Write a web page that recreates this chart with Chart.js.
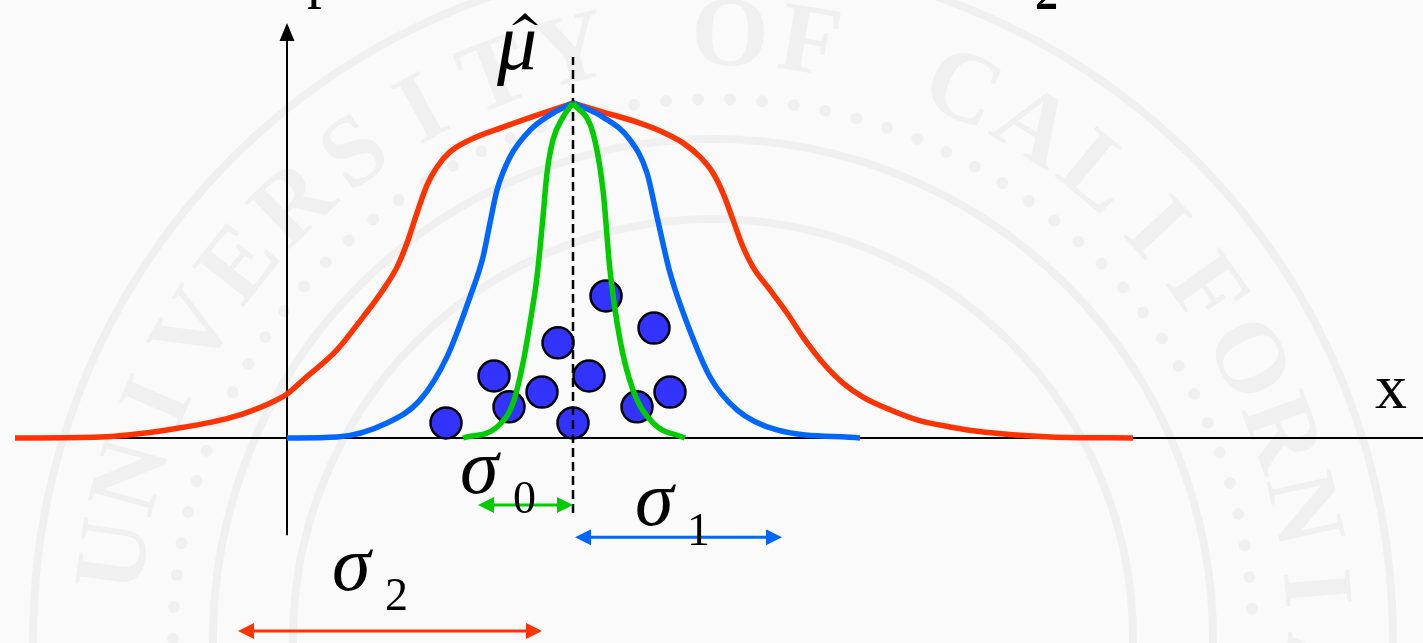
<!DOCTYPE html>
<html>
<head>
<meta charset="utf-8">
<title>Gaussian fits of different width</title>
<script src="https://cdn.jsdelivr.net/npm/chart.js@4.4.1/dist/chart.umd.min.js"></script>
<style>
  html, body { margin: 0; padding: 0; background: #fbfbfb; }
  #wrap { width: 1423px; height: 643px; position: relative; }
</style>
</head>
<body>
<div id="wrap"><canvas id="chart"></canvas></div>
<script>
// x: distance from the estimated mean, y: density scaled so each peak is 1
const redCurve = [
  [-5.58, 0], [-4.73, 0.003], [-4.06, 0.024], [-3.40, 0.063], [-3.03, 0.104],
  [-2.86, 0.131], [-2.70, 0.173], [-2.36, 0.263], [-2.10, 0.361], [-1.90, 0.442],
  [-1.76, 0.510], [-1.66, 0.582], [-1.56, 0.672], [-1.46, 0.755], [-1.36, 0.809],
  [-1.23, 0.854], [-1.03, 0.890], [-0.70, 0.928], [-0.36, 0.964], [0, 1],
  [0.30, 0.973], [0.64, 0.943], [0.90, 0.913], [1.10, 0.881], [1.27, 0.839],
  [1.40, 0.791], [1.50, 0.731], [1.60, 0.651], [1.70, 0.570], [1.80, 0.510],
  [1.97, 0.442], [2.14, 0.373], [2.30, 0.301], [2.50, 0.224], [2.70, 0.164],
  [2.90, 0.122], [3.10, 0.093], [3.44, 0.054], [3.77, 0.033], [4.10, 0.018],
  [4.77, 0.003], [5.60, 0]
]
const blueCurve = [
  [-2.86, 0], [-2.36, 0.003], [-1.86, 0.045], [-1.53, 0.113], [-1.26, 0.242],
  [-1.03, 0.421], [-0.90, 0.540], [-0.83, 0.642], [-0.76, 0.740], [-0.63, 0.839],
  [-0.43, 0.919], [-0.20, 0.970], [0, 1],
  [0.30, 0.958], [0.57, 0.890], [0.74, 0.791], [0.84, 0.660], [0.97, 0.493],
  [1.14, 0.343], [1.37, 0.182], [1.64, 0.084], [2.04, 0.024], [2.87, 0]
]
const greenCurve = [
  [-1.10, 0], [-0.76, 0.033], [-0.60, 0.104], [-0.50, 0.224], [-0.43, 0.343],
  [-0.36, 0.481], [-0.30, 0.660], [-0.26, 0.791], [-0.20, 0.890], [-0.10, 0.958], [0, 1],
  [0.20, 0.910], [0.30, 0.740], [0.37, 0.501], [0.47, 0.293], [0.60, 0.143],
  [0.80, 0.045], [1.12, 0]
]
const samples = [
  [0.33, 0.424], [0.81, 0.328], [-0.15, 0.284], [-0.79, 0.185], [0.16, 0.185], [-0.31, 0.137],
  [0.97, 0.137], [-0.64, 0.093], [0.64, 0.093], [-1.27, 0.045], [0, 0.045]
]

// widths shown under the axis: sigma_0, sigma_1, sigma_2
const sigmaSpans = [[-0.95, 0], [0.02, 2.09], [-3.35, -0.31]]
const sigmaLevels = [-0.200, -0.296, -0.576]
const sigmaColors = ['#00cc00', '#0066ff', '#ff3300']

const xAxisSpan = [-4.78, 8.5]
const yAxisX = -2.86
const yAxisSpan = [-0.29, 1.239]
const meanLineSpan = [-0.224, 1.137]

const toXY = pts => pts.map(([x, y]) => ({ x, y }))

// split at the peak so the top stays pointed
function halves(pts) {
  let top = 0
  pts.forEach((p, i) => { if (p[1] > pts[top][1]) top = i })
  return [toXY(pts.slice(0, top + 1)), toXY(pts.slice(top))]
}

function curveSets(pts, color, order) {
  return halves(pts).map(data => ({
    data, showLine: true, pointRadius: 0, borderColor: color, borderWidth: 5.5,
    cubicInterpolationMode: 'monotone', order
  }))
}

const serif = '"Liberation Serif", "Times New Roman", serif'

const labels = [
  { text: 'μ', x: -0.76, y: 1.101, font: 'italic 80px ' + serif },
  { text: 'σ', x: -1.13, y: -0.164, font: 'italic 78px ' + serif },
  { text: '0', x: -0.60, y: -0.224, font: '46px ' + serif },
  { text: 'σ', x: 0.62, y: -0.260, font: 'italic 78px ' + serif },
  { text: '1', x: 1.14, y: -0.319, font: '46px ' + serif },
  { text: 'σ', x: -2.41, y: -0.454, font: 'italic 78px ' + serif },
  { text: '2', x: -1.88, y: -0.513, font: '46px ' + serif },
  { text: 'x', x: 8.02, y: 0.090, font: '64px ' + serif },
  { text: 'p', x: -2.66, y: 1.319, font: '60px ' + serif },
  { text: '2', x: 4.62, y: 1.281, font: 'bold 46px ' + serif }
]
// the hat over mu: left, top, right
const hat = { x: [-0.61, -0.48, -0.35], y: [1.233, 1.269] }

const seal = {
  id: 'seal',
  beforeDraw(chart) {
    const { ctx, scales: { x, y } } = chart
    const cx = x.getPixelForValue(1.40), cy = y.getPixelForValue(-0.60)
    ctx.save()
    ctx.fillStyle = '#fafafa'
    ctx.fillRect(0, 0, chart.width, chart.height)
    ctx.strokeStyle = 'rgba(0,0,0,0.04)'
    ctx.fillStyle = 'rgba(0,0,0,0.04)'
    ctx.lineWidth = 8
    for (const r of [680, 500, 420]) {
      ctx.beginPath(); ctx.arc(cx, cy, r, 0, Math.PI * 2); ctx.stroke()
    }
    for (let a = 180; a <= 360; a += 3.4) {
      const t = a * Math.PI / 180
      ctx.beginPath(); ctx.arc(cx + 540 * Math.cos(t), cy + 540 * Math.sin(t), 6, 0, Math.PI * 2); ctx.fill()
    }
    const ring = 'UNIVERSITY OF CALIFORNIA'
    ctx.font = 'bold 100px ' + serif
    ctx.textAlign = 'center'
    ctx.textBaseline = 'middle'
    const start = 188, step = 7.6
    ;[...ring].forEach((ch, i) => {
      const t = (start + i * step) * Math.PI / 180
      ctx.save()
      ctx.translate(cx + 600 * Math.cos(t), cy + 600 * Math.sin(t))
      ctx.rotate(t + Math.PI / 2)
      ctx.fillText(ch, 0, 0)
      ctx.restore()
    })
    ctx.restore()
  }
}

function arrowHead(ctx, tipX, tipY, dir, len, half) {
  // dir: angle the arrow points to
  ctx.beginPath()
  ctx.moveTo(tipX, tipY)
  ctx.lineTo(tipX - len * Math.cos(dir) + half * Math.sin(dir), tipY - len * Math.sin(dir) - half * Math.cos(dir))
  ctx.lineTo(tipX - len * Math.cos(dir) - half * Math.sin(dir), tipY - len * Math.sin(dir) + half * Math.cos(dir))
  ctx.closePath()
  ctx.fill()
}

const marks = {
  id: 'marks',
  afterDatasetsDraw(chart) {
    const { ctx, scales: { x, y } } = chart
    ctx.save()
    // y axis arrow
    ctx.fillStyle = '#000'
    arrowHead(ctx, x.getPixelForValue(yAxisX), y.getPixelForValue(yAxisSpan[1]), -Math.PI / 2, 18, 7.5)
    // sigma width arrows
    sigmaSpans.forEach(([a, b], i) => {
      const py = y.getPixelForValue(sigmaLevels[i])
      const x0 = x.getPixelForValue(a), x1 = x.getPixelForValue(b)
      ctx.strokeStyle = ctx.fillStyle = sigmaColors[i]
      ctx.lineWidth = 3
      ctx.beginPath(); ctx.moveTo(x0 + 8, py); ctx.lineTo(x1 - 8, py); ctx.stroke()
      arrowHead(ctx, x0, py, Math.PI, 16, 8)
      arrowHead(ctx, x1, py, 0, 16, 8)
    })
    ctx.fillStyle = '#000'
    ctx.textAlign = 'left'
    ctx.textBaseline = 'alphabetic'
    labels.forEach(l => {
      ctx.font = l.font
      ctx.fillText(l.text, x.getPixelForValue(l.x), y.getPixelForValue(l.y))
    })
    // circumflex over mu
    const hx = hat.x.map(v => x.getPixelForValue(v))
    const [hb, ht] = hat.y.map(v => y.getPixelForValue(v))
    ctx.beginPath()
    ctx.moveTo(hx[0], hb)
    ctx.lineTo(hx[1], ht)
    ctx.lineTo(hx[2], hb)
    ctx.lineTo(hx[2] - 3, hb)
    ctx.lineTo(hx[1], ht + 6)
    ctx.lineTo(hx[0] + 2, hb)
    ctx.closePath()
    ctx.fill()
    ctx.restore()
  }
}

const datasets = [
  ...curveSets(greenCurve, '#00cc00', 1),
  ...curveSets(blueCurve, '#0066ff', 2),
  ...curveSets(redCurve, '#ff3300', 3),
  {
    data: [{ x: 0, y: meanLineSpan[0] }, { x: 0, y: meanLineSpan[1] }],
    showLine: true, pointRadius: 0, borderColor: '#000', borderWidth: 2.5, borderDash: [9, 5], order: 4
  },
  {
    data: toXY(samples), pointRadius: 15.5, pointBackgroundColor: '#3333ff',
    pointBorderColor: '#000', pointBorderWidth: 2.5, order: 5
  },
  {
    data: [{ x: xAxisSpan[0], y: 0 }, { x: xAxisSpan[1], y: 0 }],
    showLine: true, pointRadius: 0, borderColor: '#000', borderWidth: 2, order: 6
  },
  {
    data: [{ x: yAxisX, y: yAxisSpan[0] }, { x: yAxisX, y: yAxisSpan[1] - 0.04 }],
    showLine: true, pointRadius: 0, borderColor: '#000', borderWidth: 2, order: 6
  }
]

const ctx = document.getElementById('chart').getContext('2d')
new Chart(ctx, {
  type: 'scatter',
  data: { datasets },
  options: {
    responsive: true,
    maintainAspectRatio: false,
    animation: false,
    devicePixelRatio: 1,
    layout: { padding: 0, autoPadding: false },
    plugins: { legend: { display: false }, tooltip: { enabled: false } },
    scales: {
      x: { type: 'linear', display: false, min: -5.73, max: 8.50 },
      y: { type: 'linear', display: false, min: -0.612, max: 1.3075 }
    }
  },
  plugins: [seal, marks]
})
</script>
</body>
</html>
